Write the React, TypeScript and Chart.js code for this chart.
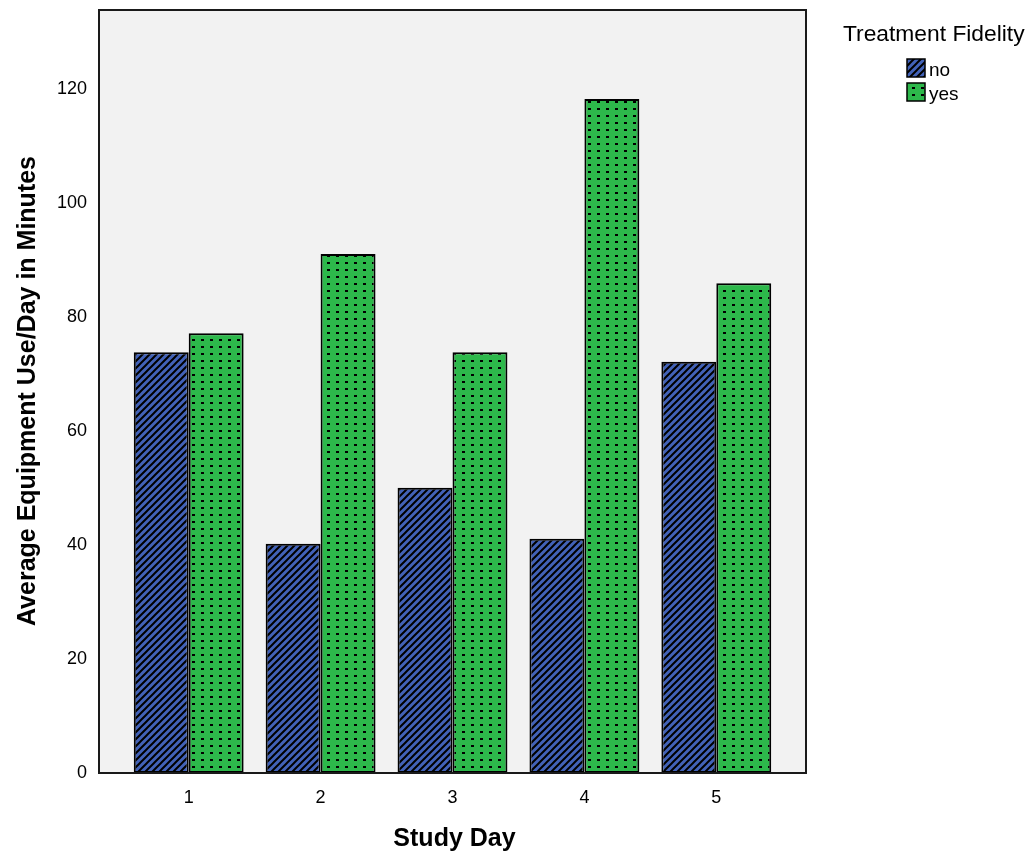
import React, { useEffect, useRef } from "react";
import { Chart, registerables } from "chart.js";

Chart.register(...registerables);

const categories = ["1", "2", "3", "4", "5"];
const seriesNames = ["no", "yes"];
const noValues = [73.8, 40.2, 50.0, 41.1, 72.1];
const yesValues = [77.1, 91.0, 73.8, 118.2, 85.9];
const yTickValues = [0, 20, 40, 60, 80, 100, 120];
const yAxisMax = 133.8;
const xAxisMin = 0.32;
const xAxisMax = 5.68;
const xTitle = "Study Day";
const yTitle = "Average Equipment Use/Day in Minutes";
const legendTitle = "Treatment Fidelity";

const FONT = "'Liberation Sans', Arial, sans-serif";
const BLUE = "#4262B8";
const GREEN = "#2DB84B";

function makeHatch(): CanvasPattern | string {
  const s = 7;
  const c = document.createElement("canvas");
  c.width = s;
  c.height = s;
  const g = c.getContext("2d");
  if (!g) return BLUE;
  g.fillStyle = BLUE;
  g.fillRect(0, 0, s, s);
  g.strokeStyle = "#000";
  g.lineWidth = 2;
  g.beginPath();
  g.moveTo(-1, s + 1);
  g.lineTo(s + 1, -1);
  g.moveTo(-s, s);
  g.lineTo(s, -s);
  g.moveTo(0, 2 * s);
  g.lineTo(2 * s, 0);
  g.stroke();
  const p = g.createPattern(c, "repeat");
  return p || BLUE;
}

function makeDots(): CanvasPattern | string {
  const c = document.createElement("canvas");
  c.width = 9;
  c.height = 7;
  const g = c.getContext("2d");
  if (!g) return GREEN;
  g.fillStyle = GREEN;
  g.fillRect(0, 0, 9, 7);
  g.fillStyle = "#000";
  g.fillRect(3, 3, 3, 2);
  const p = g.createPattern(c, "repeat");
  return p || GREEN;
}

export default function App() {
  const ref = useRef<HTMLCanvasElement | null>(null);

  useEffect(() => {
    if (!ref.current) return;
    const hatch = makeHatch();
    const dots = makeDots();
    const fills = [hatch, dots];

    const framePlugin = {
      id: "frame",
      beforeDatasetsDraw(chart: any) {
        const { ctx, chartArea: a } = chart;
        ctx.save();
        ctx.fillStyle = "#F2F2F2";
        ctx.fillRect(a.left, a.top, a.right - a.left, a.bottom - a.top);
        ctx.restore();
      },
      afterDraw(chart: any) {
        const { ctx, chartArea: a } = chart;
        ctx.save();
        ctx.strokeStyle = "#1a1a1a";
        ctx.lineWidth = 2;
        ctx.strokeRect(a.left, a.top, a.right - a.left, a.bottom - a.top);

        // axis titles
        ctx.fillStyle = "#000";
        ctx.font = `bold 25px ${FONT}`;
        ctx.textAlign = "center";
        ctx.textBaseline = "middle";
        ctx.fillText(xTitle, (a.left + a.right) / 2 + 2, 839);
        ctx.save();
        ctx.translate(28, 391);
        ctx.rotate(-Math.PI / 2);
        ctx.fillText(yTitle, 0, 0);
        ctx.restore();

        // legend
        ctx.font = `22.8px ${FONT}`;
        ctx.textAlign = "left";
        ctx.fillText(legendTitle, 843, 35);
        ctx.font = `19px ${FONT}`;
        const rows = [68, 92];
        seriesNames.forEach((name, i) => {
          const y = rows[i];
          ctx.fillStyle = fills[i] as any;
          ctx.fillRect(907, y - 9, 18, 18);
          ctx.strokeStyle = "#000";
          ctx.lineWidth = 1.5;
          ctx.strokeRect(907, y - 9, 18, 18);
          ctx.fillStyle = "#000";
          ctx.fillText(name, 929, y + 3);
        });
        ctx.restore();
      },
    };

    const toPoints = (vals: number[]) => vals.map((v, i) => ({ x: Number(categories[i]), y: v }));

    const chart = new Chart(ref.current, {
      type: "bar",
      data: {
        datasets: [
          {
            label: seriesNames[0],
            data: toPoints(noValues),
            backgroundColor: hatch as any,
            borderColor: "#000",
            borderWidth: 2,
            borderSkipped: false,
            categoryPercentage: 0.833,
            barPercentage: 1.0,
          },
          {
            label: seriesNames[1],
            data: toPoints(yesValues),
            backgroundColor: dots as any,
            borderColor: "#000",
            borderWidth: 2,
            borderSkipped: false,
            categoryPercentage: 0.833,
            barPercentage: 1.0,
          },
        ],
      },
      options: {
        responsive: false,
        animation: false,
        devicePixelRatio: 1,
        layout: { padding: { top: 10, right: 226, left: 0, bottom: 0 } },
        plugins: {
          legend: { display: false },
          tooltip: { enabled: false },
        },
        scales: {
          x: {
            type: "linear",
            min: xAxisMin,
            max: xAxisMax,
            offset: false,
            grid: { display: false, drawTicks: false },
            border: { display: false },
            ticks: {
              color: "#000",
              font: { family: FONT, size: 18 },
              padding: 14,
            },
            afterBuildTicks(scale: any) {
              scale.ticks = categories.map((c) => ({ value: Number(c) }));
            },
            afterFit(scale: any) {
              scale.height = 82;
              scale.paddingLeft = 0;
              scale.paddingRight = 0;
            },
          },
          y: {
            min: 0,
            max: yAxisMax,
            grid: { display: false, drawTicks: false },
            border: { display: false },
            ticks: {
              color: "#000",
              font: { family: FONT, size: 18 },
              padding: 12,
            },
            afterBuildTicks(scale: any) {
              scale.ticks = yTickValues.map((v) => ({ value: v }));
            },
            afterFit(scale: any) {
              scale.width = 99;
              scale.paddingTop = 0;
              scale.paddingBottom = 0;
            },
          },
        },
      },
      plugins: [framePlugin],
    });

    return () => chart.destroy();
  }, []);

  return (
    <div style={{ position: "absolute", left: 0, top: 0, width: 1032, height: 855, background: "#fff" }}>
      <canvas ref={ref} width={1032} height={855} />
    </div>
  );
}
